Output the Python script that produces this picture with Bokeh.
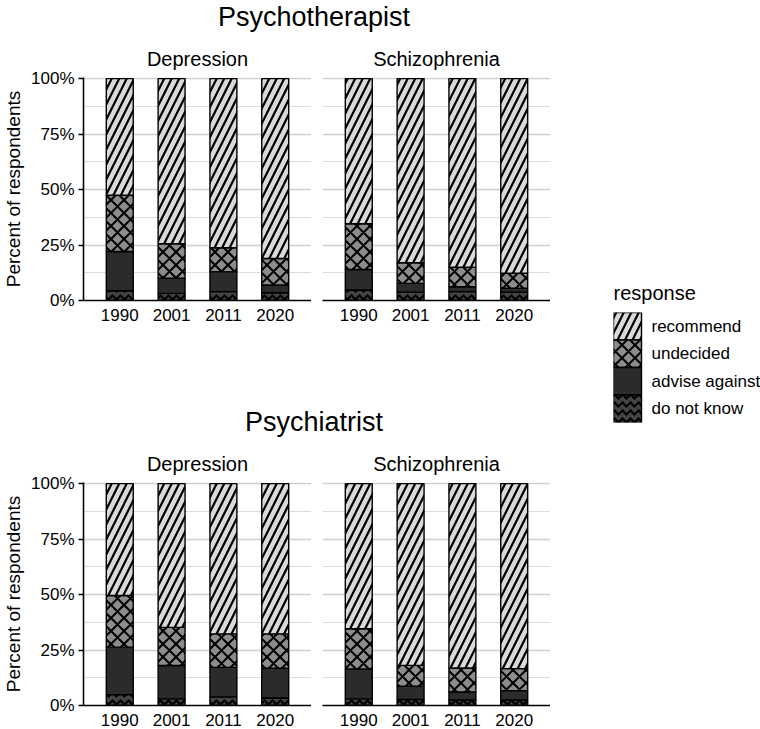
from bokeh.plotting import figure
from bokeh.models import (ColumnDataSource, FactorRange, Range1d, FixedTicker,
                          PrintfTickFormatter, Grid, Label)
from bokeh.core.properties import value
from bokeh.layouts import row, column
from bokeh.embed import file_html
from bokeh.resources import INLINE

FONT = "Liberation Sans"

years = ["1990", "2001", "2011", "2020"]
responses = ["recommend", "undecided", "advise against", "do not know"]
stack_keys = ["dnk", "aa", "und", "rec"]          # bottom -> top
legend_keys = ["rec", "und", "aa", "dnk"]         # legend order (top -> bottom)
group_titles = ["Psychotherapist", "Psychiatrist"]
facet_titles = ["Depression", "Schizophrenia"]

# Psychotherapist - Depression (percent)
pt_dep_dnk = [4.4, 3.2, 4.0, 3.5]
pt_dep_aa = [17.7, 6.8, 9.0, 3.5]
pt_dep_und = [25.3, 15.6, 10.8, 11.9]
pt_dep_rec = [52.6, 74.4, 76.2, 81.1]
# Psychotherapist - Schizophrenia
pt_sch_dnk = [4.7, 3.7, 4.0, 3.7]
pt_sch_aa = [9.3, 4.0, 2.2, 1.8]
pt_sch_und = [20.6, 9.3, 8.8, 6.8]
pt_sch_rec = [65.4, 83.0, 85.0, 87.7]
# Psychiatrist - Depression
py_dep_dnk = [4.9, 3.0, 3.9, 3.4]
py_dep_aa = [21.4, 15.0, 13.3, 13.4]
py_dep_und = [23.3, 17.2, 15.1, 15.5]
py_dep_rec = [50.4, 64.8, 67.7, 67.7]
# Psychiatrist - Schizophrenia
py_sch_dnk = [3.0, 2.7, 2.5, 2.5]
py_sch_aa = [13.5, 6.0, 3.6, 4.2]
py_sch_und = [18.1, 9.4, 10.8, 9.9]
py_sch_rec = [65.4, 81.9, 83.1, 83.4]

styles = {
    "rec": dict(fill_color="#d9d9d9", hatch_pattern="right_diagonal_line", hatch_scale=15, hatch_weight=2.2),
    "und": dict(fill_color="#8c8c8c", hatch_pattern="diagonal_cross", hatch_scale=13, hatch_weight=2.0),
    "aa": dict(fill_color="#2b2b2b", hatch_pattern=" ", hatch_scale=12, hatch_weight=1),
    "dnk": dict(fill_color="#444444", hatch_pattern="horizontal_wave", hatch_scale=8, hatch_weight=2.2),
}

FW = 228
FH = 223
LB = 80
GAP = 11
TOPB = 40
BOTB = 23
T1_H = 37
T2_H = 119
TITLE_YC = 21

ROW_W = LB + FW + GAP + FW
TOTAL_H = T1_H + TOPB + FH + BOTB + T2_H + TOPB + FH + BOTB
LEG_W = 760 - ROW_W


def make_src(dnk, aa, und, rec):
    return ColumnDataSource(dict(year=years, dnk=dnk, aa=aa, und=und, rec=rec))


def panel(title, src, left):
    p = figure(x_range=FactorRange(factors=years, range_padding=0.2, range_padding_units="absolute"),
               y_range=Range1d(0, 100.5),
               frame_width=FW, frame_height=FH,
               min_border_left=LB if left else GAP, min_border_right=0,
               min_border_top=TOPB, min_border_bottom=BOTB,
               y_axis_location="left" if left else None,
               title=title, output_backend="svg", toolbar_location=None)
    p.outline_line_color = None
    p.title.align = "center"
    p.title.text_font = FONT
    p.title.text_font_size = "20px"
    p.title.text_font_style = "normal"
    p.title.text_color = "black"
    p.title.standoff = 16
    p.xgrid.visible = False
    p.ygrid.visible = False
    p.add_layout(Grid(dimension=1, ticker=FixedTicker(ticks=[12.5, 37.5, 62.5, 87.5]),
                      grid_line_color="#dcdcdc", grid_line_width=1))
    p.add_layout(Grid(dimension=1, ticker=FixedTicker(ticks=[0, 25, 50, 75, 100]),
                      grid_line_color="#cfcfcf", grid_line_width=1.4))
    xa = p.xaxis[0]
    xa.major_tick_line_color = None
    xa.minor_tick_line_color = None
    xa.axis_line_color = "black"
    xa.axis_line_width = 1.6
    xa.major_label_text_font = FONT
    xa.major_label_text_font_size = "17px"
    xa.major_label_text_color = "black"
    xa.major_label_standoff = 2
    if left:
        ya = p.yaxis[0]
        ya.ticker = FixedTicker(ticks=[0, 25, 50, 75, 100])
        ya.formatter = PrintfTickFormatter(format="%d%%")
        ya.major_tick_out = 5
        ya.major_tick_in = 0
        ya.major_tick_line_color = "black"
        ya.major_tick_line_width = 1.4
        ya.minor_tick_line_color = None
        ya.axis_line_color = "black"
        ya.axis_line_width = 1.6
        ya.major_label_text_font = FONT
        ya.major_label_text_font_size = "17px"
        ya.major_label_text_color = "black"
        ya.major_label_standoff = 4
        ya.axis_label = "Percent of respondents"
        ya.axis_label_text_font = FONT
        ya.axis_label_text_font_size = "19px"
        ya.axis_label_text_font_style = "normal"
        ya.axis_label_text_color = "black"
        ya.axis_label_standoff = 4
    p.vbar_stack(stack_keys, x="year", width=0.52, source=src,
                 fill_color=[styles[k]["fill_color"] for k in stack_keys],
                 hatch_pattern=[styles[k]["hatch_pattern"] for k in stack_keys],
                 hatch_scale=[styles[k]["hatch_scale"] for k in stack_keys],
                 hatch_weight=[styles[k]["hatch_weight"] for k in stack_keys],
                 hatch_color="black", line_color="black", line_width=1.4)
    return p


def title_fig(text, h, yc):
    p = figure(width=ROW_W, height=h, x_range=Range1d(0, ROW_W), y_range=Range1d(0, h),
               min_border=0, x_axis_location=None, y_axis_location=None,
               output_backend="svg", toolbar_location=None)
    p.outline_line_color = None
    p.grid.visible = False
    p.add_layout(Label(x=LB + (2 * FW + GAP) / 2, y=yc, text=text, text_align="center",
                       text_baseline="middle", text_font=FONT, text_font_size="27px",
                       text_color="black"))
    return p


p_tl = panel(facet_titles[0], make_src(pt_dep_dnk, pt_dep_aa, pt_dep_und, pt_dep_rec), True)
p_tr = panel(facet_titles[1], make_src(pt_sch_dnk, pt_sch_aa, pt_sch_und, pt_sch_rec), False)
p_bl = panel(facet_titles[0], make_src(py_dep_dnk, py_dep_aa, py_dep_und, py_dep_rec), True)
p_br = panel(facet_titles[1], make_src(py_sch_dnk, py_sch_aa, py_sch_und, py_sch_rec), False)

t1 = title_fig(group_titles[0], T1_H, TITLE_YC)
t2 = title_fig(group_titles[1], T2_H, TITLE_YC)

# legend drawn as a small categorical chart of the response levels
KEY_W = 28
LABEL_X = 38
LEG_LEFT = 63
LEG_TOP = 312
LEG_FH = 110
LEG_FW = LEG_W - LEG_LEFT
legend_src = ColumnDataSource(dict(
    resp=responses,
    fill=[styles[k]["fill_color"] for k in legend_keys],
    pat=[styles[k]["hatch_pattern"] for k in legend_keys],
    scale=[styles[k]["hatch_scale"] for k in legend_keys],
    weight=[styles[k]["hatch_weight"] for k in legend_keys],
))
lf = figure(x_range=Range1d(0, LEG_FW), y_range=FactorRange(factors=responses[::-1]),
            frame_width=LEG_FW, frame_height=LEG_FH,
            min_border_left=LEG_LEFT, min_border_right=0, min_border_top=LEG_TOP,
            min_border_bottom=TOTAL_H - LEG_TOP - LEG_FH,
            x_axis_location=None, y_axis_location=None, title="response",
            output_backend="svg", toolbar_location=None)
lf.outline_line_color = None
lf.grid.visible = False
lf.title.align = "left"
lf.title.text_font = FONT
lf.title.text_font_size = "20px"
lf.title.text_font_style = "normal"
lf.title.text_color = "black"
lf.title.standoff = 17
lf.hbar(y="resp", left=0, right=KEY_W, height=1, source=legend_src,
        fill_color="fill", hatch_pattern="pat", hatch_scale="scale", hatch_weight="weight",
        hatch_color="black", line_color="black", line_width=1.4)
lf.text(x=LABEL_X, y="resp", text="resp", source=legend_src, text_baseline="middle",
        text_font=value(FONT), text_font_size="17px", text_color="black")

layout = row(column(t1, row(p_tl, p_tr), t2, row(p_bl, p_br)), lf)

open("out.html", "w").write(file_html(layout, INLINE))
